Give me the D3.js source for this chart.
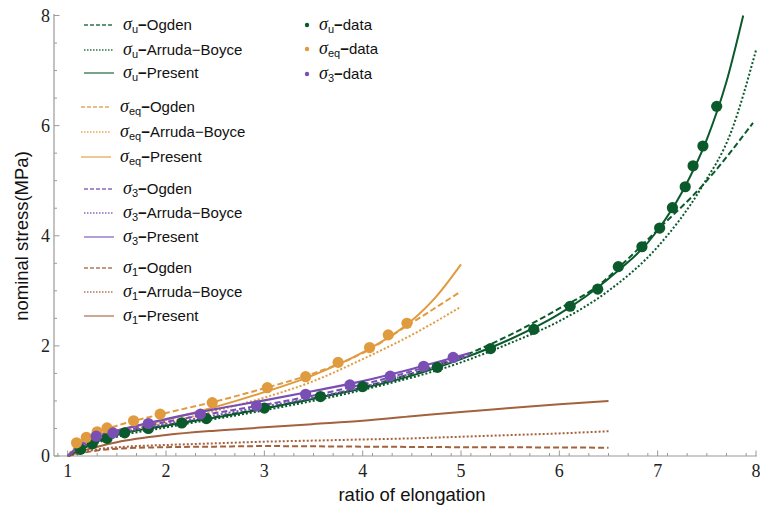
<!DOCTYPE html>
<html>
<head>
<meta charset="utf-8">
<script src="https://cdn.jsdelivr.net/npm/d3@7"></script>
<style>
  body { margin: 0; background: #fff; }
  svg { display: block; }
</style>
</head>
<body>
<div id="chart"></div>
<script>
// ---- data ----
var xTicks = [1, 2, 3, 4, 5, 6, 7, 8];
var yTicks = [0, 2, 4, 6, 8];

// measured points
var uData  = [[1.13,0.12],[1.25,0.22],[1.40,0.32],[1.58,0.42],[1.82,0.50],[2.16,0.60],[2.41,0.68],[3.00,0.87],
              [3.57,1.08],[4.00,1.26],[4.76,1.61],[5.30,1.95],[5.74,2.30],[6.11,2.72],[6.39,3.03],[6.60,3.44],
              [6.84,3.80],[7.02,4.14],[7.15,4.51],[7.28,4.89],[7.36,5.27],[7.46,5.63],[7.60,6.35]];
var eqData = [[1.09,0.24],[1.19,0.34],[1.30,0.44],[1.40,0.51],[1.67,0.64],[1.94,0.76],[2.47,0.97],[3.03,1.24],
              [3.42,1.44],[3.75,1.70],[4.07,1.97],[4.26,2.20],[4.45,2.41]];
var s3Data = [[1.29,0.36],[1.46,0.42],[1.82,0.59],[2.35,0.76],[2.92,0.91],[3.42,1.12],[3.87,1.29],[4.28,1.45],
              [4.62,1.63],[4.92,1.79]];

// model curves
var uOgden   = [[1,0],[1.2,0.2],[1.5,0.4],[2,0.56],[3,0.87],[4,1.25],[5,1.8],[5.5,2.2],[6,2.68],[6.4,3.1],
                [6.62,3.45],[7.03,4.16],[7.45,4.9],[7.97,6.05]];
var uArruda  = [[1,0],[1.2,0.17],[1.5,0.35],[2,0.52],[3,0.83],[4,1.2],[5,1.7],[5.5,2.05],[6,2.45],[6.5,3.0],
                [7,3.8],[7.45,4.89],[7.75,5.9],[8,7.37]];
var uPresent = [[1,0],[1.2,0.19],[1.5,0.38],[2,0.55],[2.5,0.7],[3,0.86],[3.5,1.04],[4,1.23],[4.5,1.46],[5,1.76],
                [5.5,2.12],[6,2.58],[6.5,3.22],[7,4.1],[7.25,4.8],[7.5,5.75],[7.7,6.8],[7.87,8.0]];

var eqOgden   = [[1,0],[1.1,0.22],[1.3,0.43],[1.5,0.55],[2,0.78],[2.5,0.99],[3,1.23],[3.5,1.5],[4,1.87],
                 [4.5,2.42],[5,2.99]];
var eqArruda  = [[1,0],[1.2,0.26],[1.5,0.42],[2,0.6],[2.5,0.82],[3,1.06],[3.5,1.36],[4,1.76],[4.5,2.2],[5,2.71]];
var eqPresent = [[1,0],[1.2,0.28],[1.5,0.46],[2,0.66],[2.5,0.89],[3,1.16],[3.5,1.47],[4,1.88],[4.5,2.46],
                 [4.75,2.9],[5,3.48]];

var s3Ogden   = [[1,0],[1.3,0.35],[1.5,0.43],[2,0.62],[2.5,0.78],[3,0.93],[3.5,1.1],[4,1.3],[4.5,1.54],[5.09,1.86]];
var s3Arruda  = [[1,0],[1.3,0.3],[1.5,0.4],[2,0.58],[2.5,0.74],[3,0.9],[3.5,1.06],[4,1.25],[4.5,1.5],[5.09,1.82]];
var s3Present = [[1,0],[1.2,0.3],[1.5,0.46],[2,0.67],[2.5,0.85],[3,1.01],[3.5,1.18],[4,1.36],[4.5,1.58],[5.09,1.87]];

var s1Ogden   = [[1,0],[1.3,0.1],[1.6,0.14],[2,0.16],[2.5,0.17],[3,0.18],[4,0.17],[5,0.16],[6,0.155],[6.5,0.15]];
var s1Arruda  = [[1,0],[1.3,0.12],[1.6,0.17],[2,0.2],[2.5,0.23],[3,0.26],[3.5,0.28],[4,0.3],[4.5,0.32],[5,0.35],
                 [5.5,0.38],[6,0.41],[6.5,0.45]];
var s1Present = [[1,0],[1.2,0.12],[1.5,0.25],[2,0.38],[2.5,0.46],[3,0.52],[3.5,0.58],[4,0.64],[4.5,0.72],[5,0.8],
                 [5.5,0.87],[6,0.94],[6.5,1.0]];

var GREEN = "#0b5a2c", ORANGE = "#e19b3f", PURPLE = "#7a4fb4", BROWN = "#a4613d";
var SERIF = "'Liberation Serif', 'Times New Roman', Times, serif";
var SANS = "'Liberation Sans', Arial, Helvetica, sans-serif";

var W = 760, H = 509;
var svg = d3.select("#chart").append("svg").attr("width", W).attr("height", H);

var x = d3.scaleLinear().domain([1, 8]).range([67.7, 756]);
var y = d3.scaleLinear().domain([0, 8]).range([456, 15.5]);
var axisColor = "#9a9a9a";

// axes, Mathematica style: ticks point inward
var xAxisG = svg.append("g").attr("transform", "translate(0,456)");
xAxisG.append("line").attr("x1", 54).attr("x2", 757).attr("stroke", axisColor).attr("stroke-width", 1.2);
var xMinor = d3.range(0.9, 8.01, 0.2).filter(function(v){ return Math.abs(v - Math.round(v)) > 0.05; });
xAxisG.selectAll(".xminor").data(xMinor).join("line")
  .attr("x1", d => x(d)).attr("x2", d => x(d)).attr("y1", 0).attr("y2", -3)
  .attr("stroke", axisColor);
xAxisG.selectAll(".xmajor").data(xTicks).join("line")
  .attr("x1", d => x(d)).attr("x2", d => x(d)).attr("y1", 0).attr("y2", -5.5)
  .attr("stroke", axisColor);
xAxisG.selectAll(".xlab").data(xTicks).join("text")
  .attr("font-family", SERIF).attr("font-size", 18).attr("fill", "#222")
  .attr("x", d => x(d)).attr("y", 21)
  .attr("text-anchor", "middle").text(d => d);

var yAxisG = svg.append("g").attr("transform", "translate(54,0)");
yAxisG.append("line").attr("y1", 456).attr("y2", 14).attr("stroke", axisColor).attr("stroke-width", 1.2);
var yMinor = d3.range(0.5, 8, 0.5).filter(function(v){ return v % 2 !== 0; });
yAxisG.selectAll(".yminor").data(yMinor).join("line")
  .attr("y1", d => y(d)).attr("y2", d => y(d)).attr("x1", 0).attr("x2", 3)
  .attr("stroke", axisColor);
yAxisG.selectAll(".ymajor").data(yTicks).join("line")
  .attr("y1", d => y(d)).attr("y2", d => y(d)).attr("x1", 0).attr("x2", 5.5)
  .attr("stroke", axisColor);
yAxisG.selectAll(".ylab").data(yTicks).join("text")
  .attr("font-family", SERIF).attr("font-size", 18).attr("fill", "#222")
  .attr("x", -4).attr("y", d => y(d) + 6)
  .attr("text-anchor", "end").text(d => d);

svg.append("text").attr("font-family", SANS).attr("font-size", 18.5).attr("fill", "#111")
  .attr("transform", "translate(28,236) rotate(-90)")
  .attr("text-anchor", "middle").text("nominal stress(MPa)");
svg.append("text").attr("font-family", SANS).attr("font-size", 18.5).attr("fill", "#111")
  .attr("x", 412).attr("y", 501).attr("text-anchor", "middle").text("ratio of elongation");

// curves
var line = d3.line().x(d => x(d[0])).y(d => y(d[1])).curve(d3.curveMonotoneX);
var DASH = "6,3", DOT = "2,2";

var curves = [
  { data: s1Ogden,   color: BROWN,  dash: DASH, w: 2 },
  { data: s1Arruda,  color: BROWN,  dash: DOT,  w: 2 },
  { data: s1Present, color: BROWN,  dash: null, w: 2 },
  { data: uOgden,    color: GREEN,  dash: DASH, w: 2 },
  { data: uArruda,   color: GREEN,  dash: DOT,  w: 2 },
  { data: uPresent,  color: GREEN,  dash: null, w: 2 },
  { data: eqOgden,   color: ORANGE, dash: DASH, w: 2 },
  { data: eqArruda,  color: ORANGE, dash: DOT,  w: 2 },
  { data: eqPresent, color: ORANGE, dash: null, w: 2 },
  { data: s3Ogden,   color: PURPLE, dash: DASH, w: 2 },
  { data: s3Arruda,  color: PURPLE, dash: DOT,  w: 2 },
  { data: s3Present, color: PURPLE, dash: null, w: 2.2 }
];

svg.append("g").selectAll("path").data(curves).join("path")
  .attr("d", d => line(d.data))
  .attr("fill", "none")
  .attr("stroke", d => d.color)
  .attr("stroke-width", d => d.w)
  .attr("stroke-dasharray", d => d.dash);

// measured points
var pointSets = [
  { data: uData,  color: GREEN },
  { data: eqData, color: ORANGE },
  { data: s3Data, color: PURPLE }
];
pointSets.forEach(function(s) {
  svg.append("g").selectAll("circle").data(s.data).join("circle")
    .attr("cx", d => x(d[0])).attr("cy", d => y(d[1])).attr("r", 5.6)
    .attr("fill", s.color);
});

// legend
var lineLegend = [
  { sub: "u",  name: "Ogden",         color: GREEN,  dash: DASH, y: 25,  x0: 84 },
  { sub: "u",  name: "Arruda\u2212Boyce", color: GREEN,  dash: DOT,  y: 50,  x0: 84 },
  { sub: "u",  name: "Present",       color: GREEN,  dash: null, y: 73,  x0: 84 },
  { sub: "eq", name: "Ogden",         color: ORANGE, dash: DASH, y: 107, x0: 81 },
  { sub: "eq", name: "Arruda\u2212Boyce", color: ORANGE, dash: DOT,  y: 132, x0: 81 },
  { sub: "eq", name: "Present",       color: ORANGE, dash: null, y: 157, x0: 81 },
  { sub: "3",  name: "Ogden",         color: PURPLE, dash: DASH, y: 189, x0: 84 },
  { sub: "3",  name: "Arruda\u2212Boyce", color: PURPLE, dash: DOT,  y: 213, x0: 84 },
  { sub: "3",  name: "Present",       color: PURPLE, dash: null, y: 237, x0: 84 },
  { sub: "1",  name: "Ogden",         color: BROWN,  dash: DASH, y: 268, x0: 84 },
  { sub: "1",  name: "Arruda\u2212Boyce", color: BROWN,  dash: DOT,  y: 292, x0: 84 },
  { sub: "1",  name: "Present",       color: BROWN,  dash: null, y: 316, x0: 84 }
];

function labelText(g, tx, ty, sub, name) {
  var t = g.append("text").attr("font-family", SANS).attr("font-size", 15).attr("fill", "#111")
    .attr("x", tx).attr("y", ty + 5);
  t.append("tspan").attr("font-family", SERIF).attr("font-style", "italic")
    .attr("font-size", 18).text("\u03c3");
  t.append("tspan").attr("font-size", 11).attr("dy", 3).text(sub);
  t.append("tspan").attr("dy", -3).attr("font-weight", "bold").text("\u2212");
  t.append("tspan").text(name);
}

var legG = svg.append("g");
lineLegend.forEach(function(d) {
  legG.append("line")
    .attr("x1", d.x0).attr("x2", d.x0 + 30).attr("y1", d.y).attr("y2", d.y)
    .attr("stroke", d.color).attr("stroke-width", 1.3).attr("opacity", 0.85)
    .attr("stroke-dasharray", d.dash ? (d.dash === DASH ? "4,2" : "1.5,1.5") : null);
  labelText(legG, d.x0 + 39, d.y, d.sub, d.name);
});

var dotLegend = [
  { sub: "u",  color: GREEN,  y: 25 },
  { sub: "eq", color: ORANGE, y: 49 },
  { sub: "3",  color: PURPLE, y: 74 }
];
dotLegend.forEach(function(d) {
  legG.append("circle").attr("cx", 307).attr("cy", d.y).attr("r", 2.2).attr("fill", d.color);
  labelText(legG, 319, d.y, d.sub, "data");
});
</script>
</body>
</html>
